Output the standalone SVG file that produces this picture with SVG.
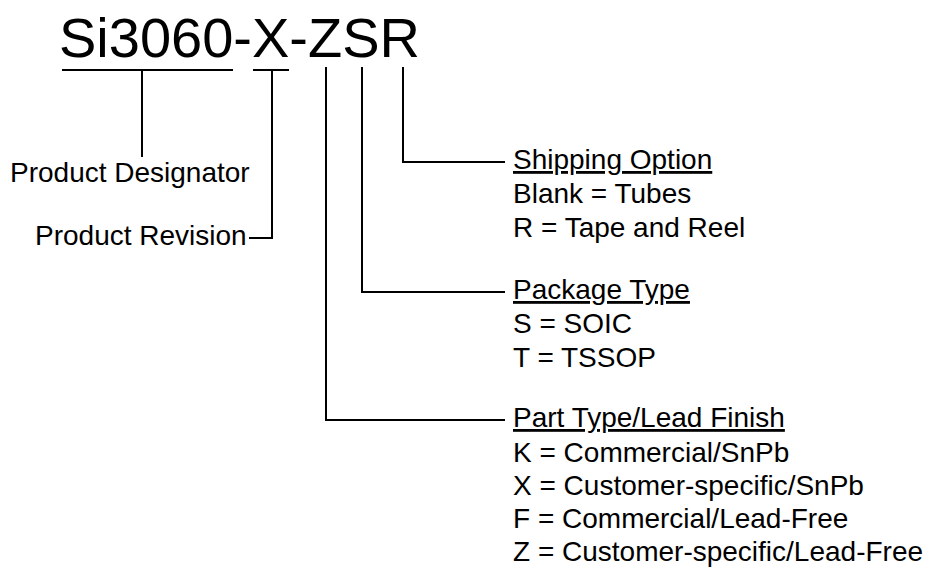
<svg xmlns="http://www.w3.org/2000/svg" width="930" height="568" viewBox="0 0 930 568">
<style>
text{font-family:"Liberation Sans",Arial,sans-serif;fill:#000}
.t{font-size:56px}
.l{font-size:28px}
.u{text-decoration:underline}
.c{fill:none;stroke:#000;stroke-width:2}
</style>
<rect width="930" height="568" fill="#fff"/>
<g id="title"><text class="t" x="59" y="57">Si3060-X-ZSR</text></g>
<g id="connectors">
<path class="c" d="M62 70H233M142 70V157"/>
<path class="c" d="M253 70H289M272 70V238H249"/>
<path class="c" d="M326 67V420H505"/>
<path class="c" d="M362 67V292H505"/>
<path class="c" d="M403 67V162H505"/>
</g>
<g id="product-designator"><text class="l" x="10" y="182">Product Designator</text></g>
<g id="product-revision"><text class="l" x="35" y="245">Product Revision</text></g>
<g id="shipping-option">
<text class="l u" x="513" y="169">Shipping Option</text>
<text class="l" x="513" y="203">Blank = Tubes</text>
<text class="l" x="513" y="237">R = Tape and Reel</text>
</g>
<g id="package-type">
<text class="l u" x="513" y="299">Package Type</text>
<text class="l" x="513" y="333">S = SOIC</text>
<text class="l" x="513" y="367">T = TSSOP</text>
</g>
<g id="part-type">
<text class="l u" x="513" y="427">Part Type/Lead Finish</text>
<text class="l" x="513" y="462">K = Commercial/SnPb</text>
<text class="l" x="513" y="495">X = Customer-specific/SnPb</text>
<text class="l" x="513" y="528">F = Commercial/Lead-Free</text>
<text class="l" x="513" y="561">Z = Customer-specific/Lead-Free</text>
</g>
</svg>
